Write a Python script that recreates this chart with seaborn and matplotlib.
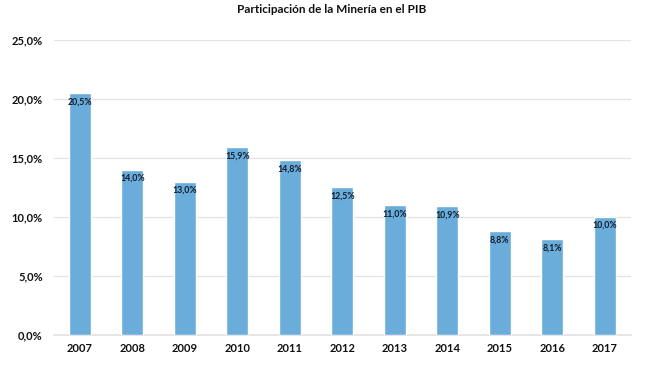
import matplotlib
matplotlib.use("Agg")
import matplotlib.pyplot as plt
import seaborn as sns
import pandas as pd
from matplotlib.ticker import FuncFormatter

years = ["2007", "2008", "2009", "2010", "2011", "2012", "2013", "2014", "2015", "2016", "2017"]
values = [20.5, 14.0, 13.0, 15.9, 14.8, 12.5, 11.0, 10.9, 8.8, 8.1, 10.0]
yticks = [0, 5, 10, 15, 20, 25]
title = "Participación de la Minería en el PIB"

sns.set_theme(style="white")
plt.rcParams['font.family'] = ['Lato', 'DejaVu Sans']

df = pd.DataFrame({"year": years, "value": values})

fig = plt.figure(figsize=(6.64, 3.68), dpi=100)
ax = fig.add_axes([0.081, 0.0897, 0.869, 0.8016])
sns.barplot(data=df, x="year", y="value", color="#6aaddb", width=0.42,
            saturation=1, ax=ax, zorder=3)
ax.set_ylim(0, 25)
ax.set_yticks(yticks)
ax.yaxis.set_major_formatter(FuncFormatter(lambda v, p: f"{v:.1f}%".replace(".", ",")))
ax.grid(axis="y", color="#e3e3e3", linewidth=0.9, zorder=0)
for s in ["top", "right", "left"]:
    ax.spines[s].set_visible(False)
ax.spines["bottom"].set_color("#e3e3e3")
ax.set_xlabel("")
ax.set_ylabel("")
ax.tick_params(axis="both", length=0, labelsize=8, colors="#111111")
ax.tick_params(axis="x", pad=6)
ax.tick_params(axis="y", pad=8)
for lab in ax.get_xticklabels() + ax.get_yticklabels():
    lab.set_fontweight("bold")

for i, v in enumerate(values):
    ax.text(i, v - 0.35, f"{v:.1f}%".replace(".", ","), ha="center", va="top",
            fontsize=6.3, fontweight="bold", color="#0d1b2a", zorder=4)

fig.text(0.5, 0.99, title, ha="center", va="top", fontsize=8.5, fontweight="bold", color="#111111")

fig.savefig("out.png", dpi=100)
